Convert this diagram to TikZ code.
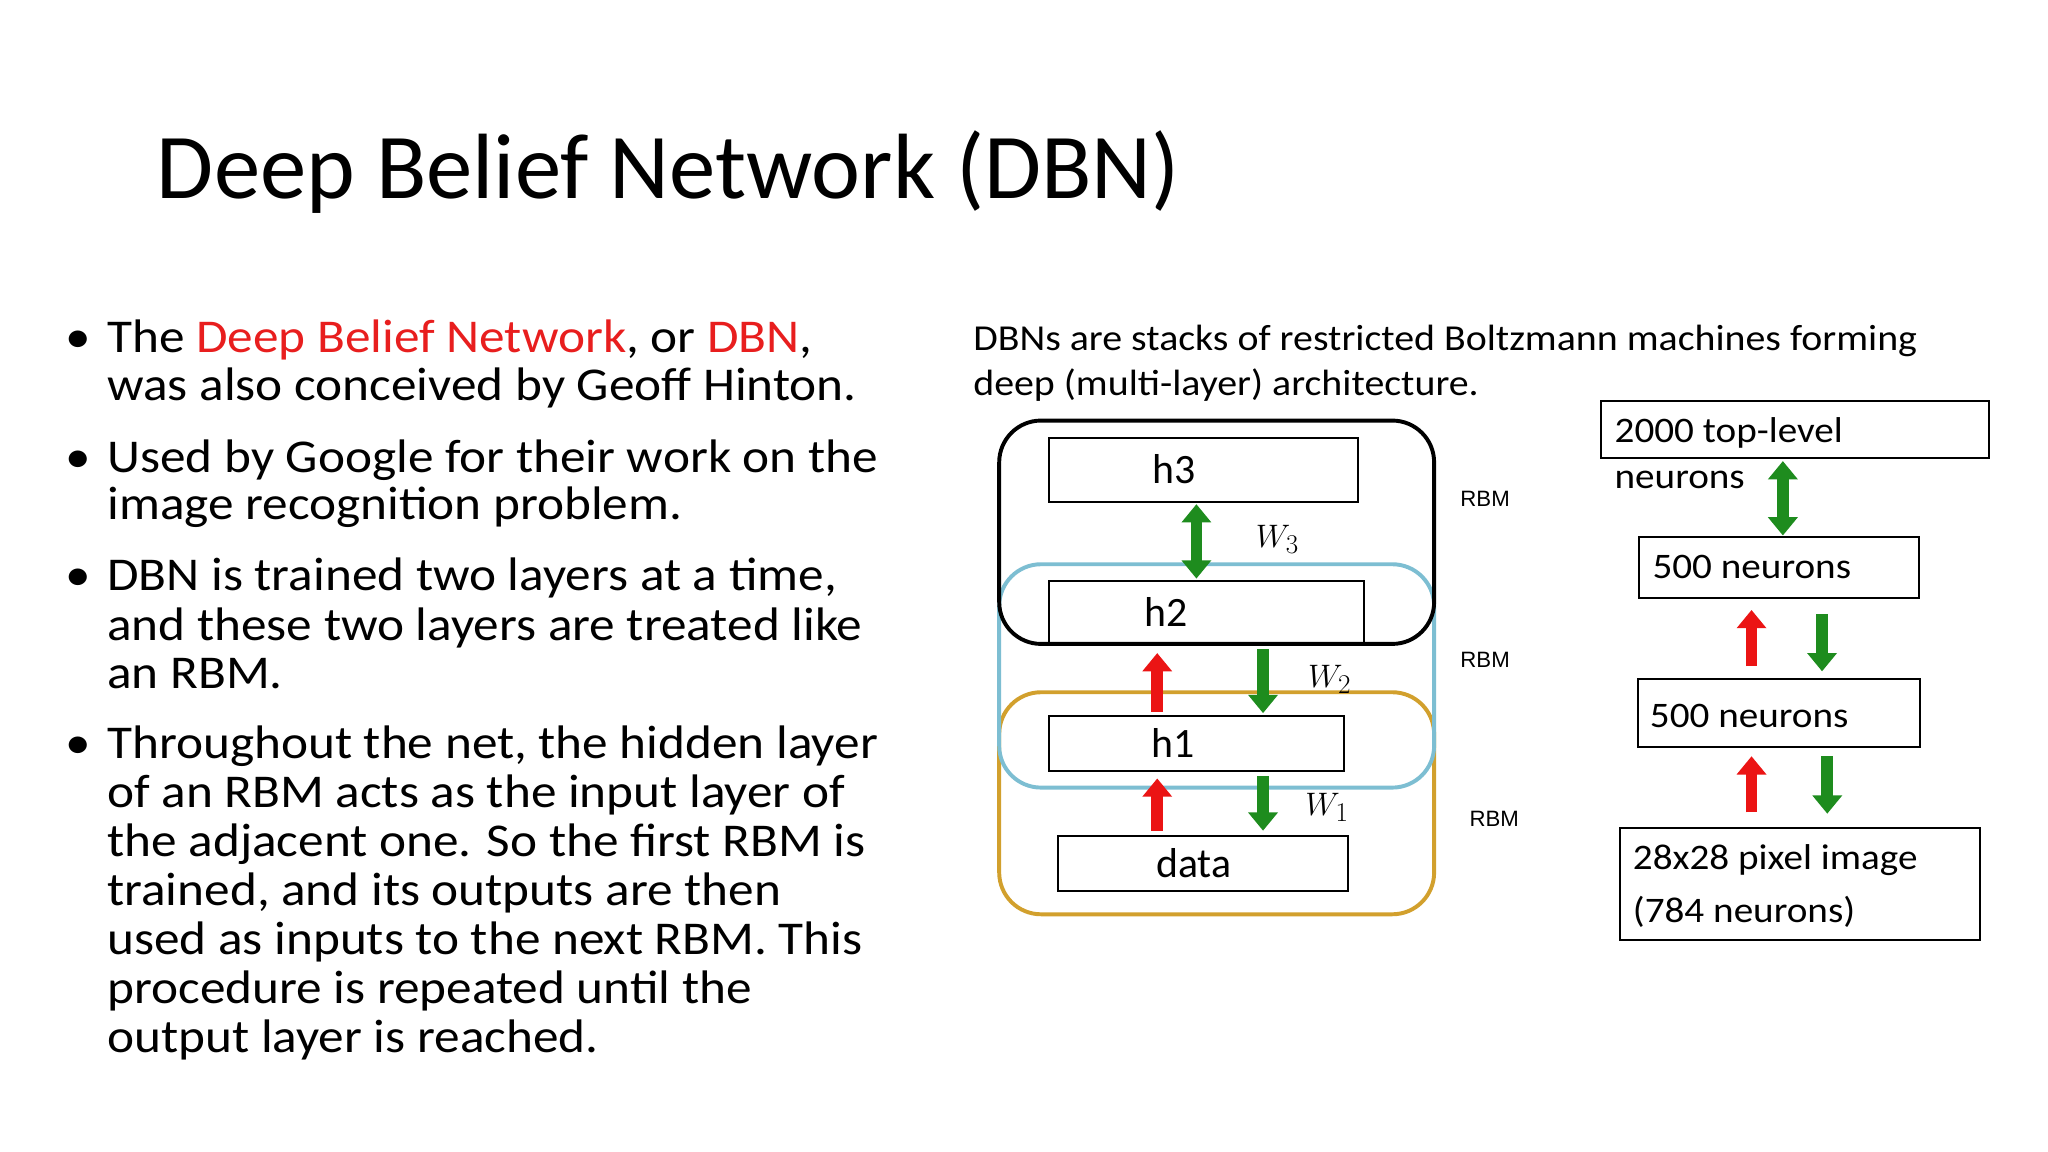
\documentclass[tikz,border=0pt]{standalone}
\usepackage{fontspec}
\setmainfont{Carlito}
\newfontfamily\wide{Carlito}[FakeStretch=1.09]
\newfontfamily\sansf{Liberation Sans}
\usetikzlibrary{arrows.meta}
\definecolor{dred}{RGB}{232,30,30}
\definecolor{ggreen}{RGB}{30,140,30}
\definecolor{rred}{RGB}{235,20,20}
\definecolor{lblue}{RGB}{125,190,210}
\definecolor{gold}{RGB}{210,160,45}
\begin{document}
\begin{tikzpicture}[x=1pt,y=-1pt,
  line/.style={anchor=base west,inner sep=0,font=\wide\fontsize{36}{38}\selectfont},
  dline/.style={anchor=base west,inner sep=0,font=\wide\fontsize{28}{30}\selectfont},
  sline/.style={anchor=base west,inner sep=0,font=\wide\fontsize{27.5}{30}\selectfont},
  box/.style={draw,line width=1.6pt},
  lab/.style={font=\fontsize{32}{34}\selectfont},
  rbm/.style={font=\sansf\fontsize{17}{18}\selectfont},
  ga/.style={ggreen,line width=9pt,-{Triangle[width=22pt,length=14pt]}},
  gd/.style={ggreen,line width=9pt,{Triangle[width=22pt,length=14pt]}-{Triangle[width=22pt,length=14pt]}},
  ra/.style={rred,line width=9pt,-{Triangle[width=22pt,length=14pt]}},
  wl/.style={font=\fontfamily{lmr}\itshape\fontsize{32}{34}\selectfont}]
\useasboundingbox (0,0) rectangle (1568,882);
\fill[white] (0,0) rectangle (1568,882);
\node[anchor=base west,inner sep=0,font=\fontsize{71}{74}\selectfont] (title) at (120,152) {Deep Belief Network (DBN)};
% bullets
\foreach \y/\n in {270/b1,362/b2,452/b3,581/b4}{\node[line] (\n) at (50,\y) {•};}
\node[line] (l1) at (82,270) {The \textcolor{dred}{Deep Belief Network}, or \textcolor{dred}{DBN},};
\node[line] (l2) at (82,307) {was also conceived by Geoff Hinton.};
\node[line] (l3) at (82,362) {Used by Google for their work on the};
\node[line] (l4) at (82,398) {image recognition problem.};
\node[line] (l5) at (82,452) {DBN is trained two layers at a time,};
\node[line] (l6) at (82,490) {and these two layers are treated like};
\node[line] (l7) at (82,527) {an RBM.};
\node[line] (l8) at (82,581) {Throughout the net, the hidden layer};
\node[line] (l9) at (82,618) {of an RBM acts as the input layer of};
\node[line] (l10) at (82,656) {the adjacent one. So the first RBM is};
\node[line] (l11) at (82,693) {trained, and its outputs are then};
\node[line] (l12) at (82,731) {used as inputs to the next RBM. This};
\node[line] (l13) at (82,768) {procedure is repeated until the};
\node[line] (l14) at (82,806) {output layer is reached.};
% caption
\node[dline] (c1) at (745,268) {DBNs are stacks of restricted Boltzmann machines forming};
\node[dline] (c2) at (745,303) {deep (multi-layer) architecture.};
% rounded groups
\draw[gold,line width=3pt,rounded corners=32pt] (765,530) rectangle (1098,700);
\draw[lblue,line width=3pt,rounded corners=32pt] (765,432) rectangle (1098,603);
\draw[black,line width=3pt,rounded corners=32pt] (765,322) rectangle (1098,493);
% layer boxes
\node[box,minimum width=237pt,minimum height=49pt,lab] (h3) at (921.5,359.5) {\hspace*{-45pt}h3};
\node[box,minimum width=241pt,minimum height=47pt,lab] (h2) at (923.5,468.5) {\hspace*{-62pt}h2};
\node[box,minimum width=226pt,minimum height=42pt,lab] (h1) at (916,569) {\hspace*{-36pt}h1};
\node[box,minimum width=222pt,minimum height=42pt,lab] (data) at (921,661) {\hspace*{-14pt}data};
\draw[gd] (916,386) -- (916,443);
\draw[ra] (886,545) -- (886,500);
\draw[ga] (967,497) -- (967,546);
\draw[ra] (886,636) -- (886,596);
\draw[ga] (967,594) -- (967,636);
\node[wl] (w3) at (978,413) {$W_3$};
\node[wl] (w2) at (1018,520) {$W_2$};
\node[wl] (w1) at (1016,618) {$W_1$};
\node[rbm] (r3) at (1137,382) {RBM};
\node[rbm] (r2) at (1137,505) {RBM};
\node[rbm] (r1) at (1144,627) {RBM};
% right stack
\node[box,minimum width=297pt,minimum height=44pt] (top) at (1374.5,329) {};
\node[sline] (tt) at (1236,339) {2000 top-level};
\node[sline] (tn) at (1236,374) {neurons};
\node[box,minimum width=214pt,minimum height=47pt] (n2) at (1362,434.5) {};
\node[sline] (n2t) at (1265,443) {500 neurons};
\node[box,minimum width=216pt,minimum height=52pt] (n1) at (1362,546) {};
\node[sline] (n1t) at (1263,557) {500 neurons};
\node[box,minimum width=276pt,minimum height=86pt] (img) at (1378,677) {};
\node[sline] (it1) at (1250,666) {28x28 pixel image};
\node[sline] (it2) at (1250,706) {(784 neurons)};
\draw[gd] (1365,353) -- (1365,410);
\draw[ra] (1341,510) -- (1341,467);
\draw[ga] (1395,470) -- (1395,514);
\draw[ra] (1341,622) -- (1341,579);
\draw[ga] (1399,579) -- (1399,623);
\end{tikzpicture}
\end{document}
